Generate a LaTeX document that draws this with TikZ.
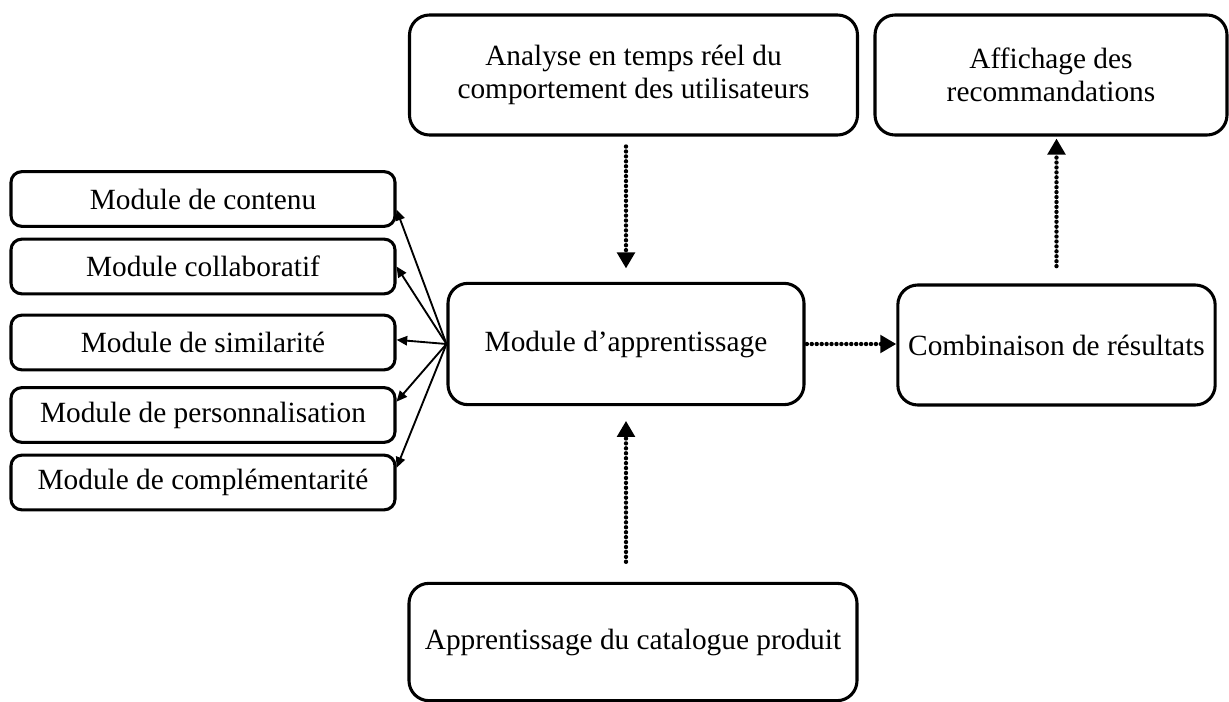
\documentclass[tikz,border=0pt]{standalone}
\usepackage{fontspec}
\setmainfont{Liberation Serif}
\usetikzlibrary{arrows.meta}
\begin{document}
\begin{tikzpicture}[x=0.75pt,y=-0.75pt,
  every node/.style={font=\fontsize{22pt}{24.5pt}\selectfont},
  bigbox/.style={draw,line width=2.3pt,rounded corners=15pt,align=center,inner sep=0pt},
  modbox/.style={draw,line width=2.3pt,rounded corners=8pt,align=center,inner sep=0pt,
    minimum width=288pt,minimum height=41pt},
  dotarrow/.style={line width=3.3pt,dash pattern=on 0pt off 3.7pt,line cap=round,
    -{Triangle[length=12pt,width=13pt]}},
  fan/.style={line width=1.4pt,-{Triangle[length=8pt,width=7pt]}}]
\useasboundingbox (0,0) rectangle (1229,702);

\node[bigbox,minimum width=336pt,minimum height=90pt] (ana) at (633.5,75)
  {Analyse en temps réel du\\comportement des utilisateurs};
\node[bigbox,minimum width=264pt,minimum height=90pt] (aff) at (1051,75)
  {Affichage des\\recommandations};
\node[bigbox,minimum width=267pt,minimum height=91pt] (app) at (626,344)
  {Module d’apprentissage};
\node[bigbox,minimum width=238pt,minimum height=90pt] (comb) at (1056.5,345)
  {Combinaison de résultats};
\node[bigbox,minimum width=336pt,minimum height=88pt] (cat) at (633,642)
  {Apprentissage du catalogue produit};

\node[modbox] (m1) at (203,199) {Module de contenu};
\node[modbox] (m2) at (203,266.5) {Module collaboratif};
\node[modbox] (m3) at (203,342.5) {Module de similarité};
\node[modbox] (m4) at (203,415) {Module de personnalisation};
\node[modbox] (m5) at (203,482.5) {Module de complémentarité};

\draw[fan] (app.west) -- ([yshift=-8pt]m1.east);
\draw[fan] (app.west) -- (m2.east);
\draw[fan] (app.west) -- ([yshift=2pt]m3.east);
\draw[fan] (app.west) -- ([yshift=10pt]m4.east);
\draw[fan] (app.west) -- ([yshift=11pt]m5.east);

\draw[dotarrow,shorten <=7.5pt,shorten >=10pt] (ana.south -| app.north) -- (app.north);
\draw[dotarrow,shorten <=15pt,shorten >=11pt] (cat.north -| app.south) -- (app.south);
\draw[dotarrow,shorten <=1pt] (app.east) -- (comb.west |- app.east);
\draw[dotarrow,shorten <=13pt,shorten >=1.5pt] (comb.north) -- (aff.south -| comb.north);
\end{tikzpicture}
\end{document}
